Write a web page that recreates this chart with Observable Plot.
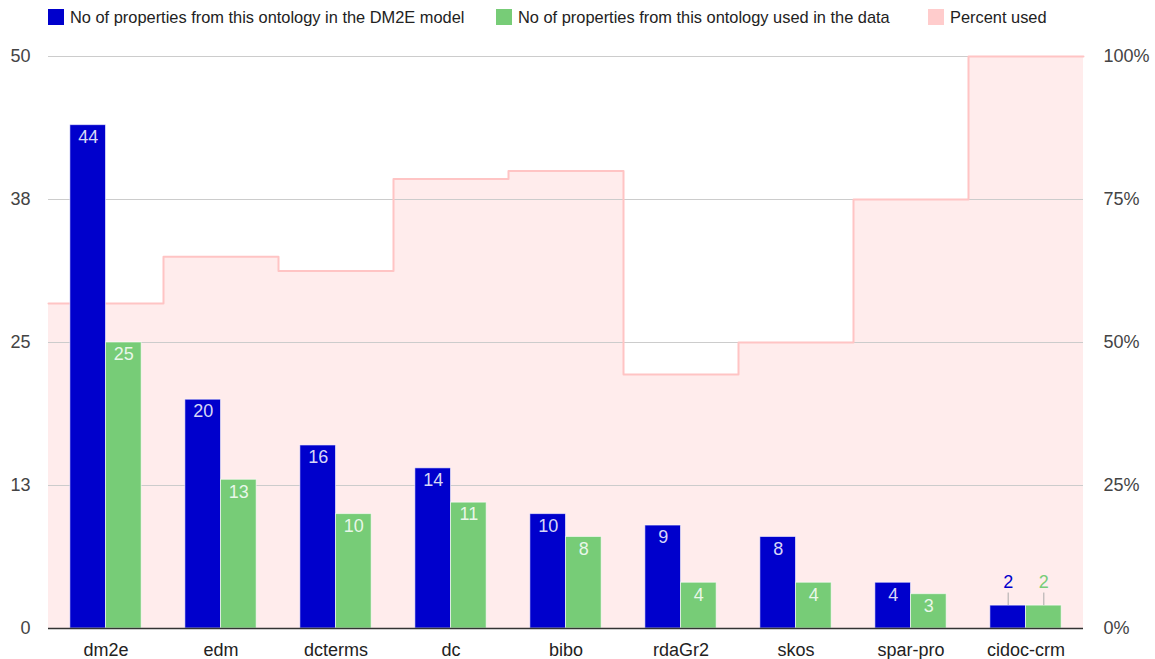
<!DOCTYPE html>
<html>
<head>
<meta charset="utf-8">
<script src="https://cdn.jsdelivr.net/npm/d3@7"></script>
<script src="https://cdn.jsdelivr.net/npm/@observablehq/plot@0.6"></script>
<style>
  html, body { margin: 0; padding: 0; background: #fff; }
  body { width: 1155px; height: 659px; overflow: hidden; font-family: "Liberation Sans", Arial, sans-serif; }
  #legend { position: relative; height: 34px; font-size: 16.4px; color: #222; }
  .item { position: absolute; top: 8px; display: flex; align-items: center; white-space: nowrap; line-height: 18px; }
  .sw { width: 16px; height: 16px; margin-right: 6px; }
</style>
</head>
<body>
<div id="legend"></div>
<div id="chart"></div>
<script>
const categories = ["dm2e", "edm", "dcterms", "dc", "bibo", "rdaGr2", "skos", "spar-pro", "cidoc-crm"];
const inModel = [44, 20, 16, 14, 10, 9, 8, 4, 2];
const usedInData = [25, 13, 10, 11, 8, 4, 4, 3, 2];
const percentUsed = [0.568, 0.65, 0.625, 0.786, 0.80, 0.444, 0.50, 0.75, 1.00];
const leftTicks = [0, 12.5, 25, 37.5, 50];
const leftTickLabels = ["0", "13", "25", "38", "50"];
const rightTickLabels = ["0%", "25%", "50%", "75%", "100%"];
const seriesNames = [
  "No of properties from this ontology in the DM2E model",
  "No of properties from this ontology used in the data",
  "Percent used"
];
const colors = ["#0000cc", "#77cc77", "#ffcccc"];

// legend
const legendX = [48, 496, 928];
const legend = document.getElementById("legend");
seriesNames.forEach((name, i) => {
  const d = document.createElement("div");
  d.className = "item";
  d.style.left = legendX[i] + "px";
  d.innerHTML = `<div class="sw" style="background:${colors[i]}"></div><span>${name}</span>`;
  legend.appendChild(d);
});

const yMax = 50;
const half = 0.31; // bar width in band units
const rows = categories.map((c, i) => ({
  cat: c, i, c0: i + 0.5, model: inModel[i], used: usedInData[i], pct: percentUsed[i]
}));
const stepData = rows.map(r => ({x: r.i, y: r.pct * yMax}));
stepData.push({x: categories.length, y: percentUsed[percentUsed.length - 1] * yMax});

const blue = rows.map(r => ({x1: r.c0 - half, x2: r.c0, v: r.model, xc: r.c0 - half / 2}));
const green = rows.map(r => ({x1: r.c0, x2: r.c0 + half, v: r.used, xc: r.c0 + half / 2}));
const inside = d => d.v > 2;
const outside = d => d.v <= 2;

const chart = Plot.plot({
  width: 1155,
  height: 625,
  marginLeft: 48,
  marginRight: 72,
  marginTop: 22,
  marginBottom: 31,
  style: {fontFamily: "Liberation Sans, Arial, sans-serif", fontSize: "18px", background: "#fff"},
  x: {type: "linear", domain: [0, categories.length], axis: null},
  y: {domain: [0, yMax], axis: null},
  marks: [
    Plot.areaY(stepData, {x: "x", y: "y", curve: "step-after", fill: "#ffcccc", fillOpacity: 0.38}),
    Plot.ruleY(leftTicks.slice(1), {stroke: "#cccccc", strokeWidth: 1}),
    Plot.lineY(stepData, {x: "x", y: "y", curve: "step-after", stroke: "#ffc4c4", strokeWidth: 2}),
    Plot.rectY(blue, {x1: "x1", x2: "x2", y: "v", fill: colors[0], stroke: "#fff", strokeWidth: 1, strokeOpacity: 0.6}),
    Plot.rectY(green, {x1: "x1", x2: "x2", y: "v", fill: colors[1], stroke: "#fff", strokeWidth: 1, strokeOpacity: 0.6}),
    Plot.ruleY([0], {stroke: "#333", strokeWidth: 1.5}),
    Plot.text(blue.filter(inside), {x: "xc", y: "v", text: d => String(d.v), dy: 12, fill: "#fff", fillOpacity: 0.85, fontSize: 18}),
    Plot.text(green.filter(inside), {x: "xc", y: "v", text: d => String(d.v), dy: 12, fill: "#fff", fillOpacity: 0.85, fontSize: 18}),
    Plot.ruleX(blue.filter(outside), {x: "xc", y1: "v", y2: d => d.v + 1.1, stroke: "#aaa"}),
    Plot.ruleX(green.filter(outside), {x: "xc", y1: "v", y2: d => d.v + 1.1, stroke: "#aaa"}),
    Plot.text(blue.filter(outside), {x: "xc", y: "v", text: d => String(d.v), dy: -23, fill: colors[0], fontSize: 18}),
    Plot.text(green.filter(outside), {x: "xc", y: "v", text: d => String(d.v), dy: -23, fill: colors[1], fontSize: 18}),
    Plot.axisY({anchor: "left", ticks: leftTicks, tickSize: 0, tickPadding: 18,
      tickFormat: d => leftTickLabels[leftTicks.indexOf(d)], fill: "#444", fontSize: 18}),
    Plot.axisY({anchor: "right", ticks: leftTicks, tickSize: 0, tickPadding: 20,
      tickFormat: d => rightTickLabels[leftTicks.indexOf(d)], fill: "#444", fontSize: 18}),
    Plot.axisX({ticks: rows.map(r => r.c0), tickSize: 0, tickPadding: 15,
      tickFormat: d => categories[Math.round(d - 0.5)], fill: "#222", fontSize: 18})
  ]
});
document.getElementById("chart").appendChild(chart);
</script>
</body>
</html>
